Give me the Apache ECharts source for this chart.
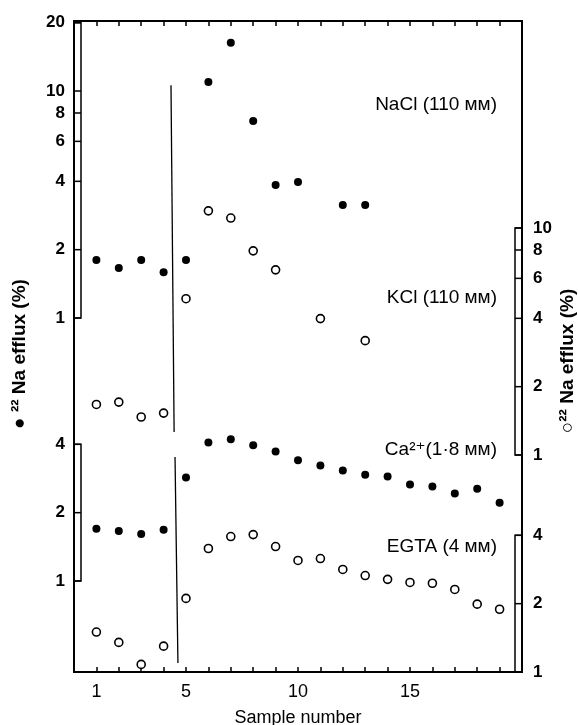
<!DOCTYPE html>
<html><head><meta charset="utf-8">
<script src="https://cdn.jsdelivr.net/npm/echarts@6/dist/echarts.min.js"></script>
<style>html,body{margin:0;padding:0;background:#fff}#c{width:578px;height:725px}</style>
</head><body><div id="c"></div>
<script>
// ---- data ----
const naclSamples = [1,2,3,4,5,6,7,8,9,10,12,13];
const naclEfflux  = [1.80,1.66,1.80,1.59,1.80,10.96,16.3,7.38,3.85,3.97,3.15,3.15];
const kclSamples  = [1,2,3,4,5,6,7,8,9,11,13];
const kclEfflux   = [1.67,1.71,1.47,1.53,4.88,11.9,11.06,7.93,6.54,3.99,3.19];
const caSamples   = [1,2,3,4,5,6,7,8,9,10,11,12,13,14,15,16,17,18,19];
const caEfflux    = [1.70,1.66,1.61,1.68,2.86,4.08,4.21,3.96,3.72,3.40,3.23,3.07,2.94,2.89,2.66,2.61,2.43,2.55,2.21];
const egtaSamples = [1,2,3,4,5,6,7,8,9,10,11,12,13,14,15,16,17,18,19];
const egtaEfflux  = [1.50,1.35,1.08,1.30,2.11,3.50,3.95,4.03,3.57,3.10,3.16,2.83,2.66,2.56,2.48,2.46,2.31,1.99,1.89];
// divider lines (sample, efflux on the NaCl / Ca scales)
const dividerUpperX = [4.33, 4.47];
const dividerUpperY = [10.6, 0.315];
const dividerLowerX = [4.51, 4.64];
const dividerLowerY = [3.52, 0.435];
// tick labels
const xTickLabels = [1,5,10,15];
const leftUpperTicks  = [1,2,4,6,8,10,20];
const leftLowerTicks  = [1,2,4];
const rightUpperTicks = [1,2,4,6,8,10];
const rightLowerTicks = [1,2,4];
const conditionLabels = ['NaCl (110 ᴍᴍ)', 'KCl (110 ᴍᴍ)', 'Ca²⁺(1·8 ᴍᴍ)', 'EGTA (4 ᴍᴍ)'];

// ---- layout ----
const T = 21, B = 672, L = 74, R = 522, W = 578, Hh = 725;
const DEC = 227; // pixels per decade
const FONT = '"Liberation Sans", Arial, "DejaVu Sans", sans-serif';
const INK = '#000';

function logAxis(onePx, position) {
  return { type: 'log', logBase: 10, position, show: false,
    min: Math.pow(10, (onePx - B) / DEC), max: Math.pow(10, (onePx - T) / DEC) };
}
const zip = (xs, ys) => xs.map((x, i) => [x, ys[i]]);

function scaleSeries(yAxisIndex, ticks, side) {
  const xv = side === 'left' ? 0 : 20;
  const lo = Math.min(...ticks), hi = Math.max(...ticks);
  return {
    type: 'custom', yAxisIndex, silent: true, z: 6, clip: false,
    data: ticks.map(v => [xv, v]),
    renderItem(params, api) {
      const v = api.value(1);
      const p = api.coord([xv, v]);
      const dir = side === 'left' ? 1 : -1;
      const bw = 7;
      const ch = [];
      ch.push({ type: 'line', shape: { x1: p[0], y1: p[1], x2: p[0] + dir * bw, y2: p[1] },
        style: { stroke: INK, lineWidth: 1.5 } });
      ch.push({ type: 'text', style: { text: String(v),
        x: side === 'left' ? p[0] - 9 : p[0] + 11, y: p[1],
        align: side === 'left' ? 'right' : 'left', verticalAlign: 'middle',
        font: 'bold 17px ' + FONT, fill: INK } });
      if (params.dataIndex === 0) {
        const q = api.coord([xv, hi]), r = api.coord([xv, lo]);
        ch.push({ type: 'rect', shape: { x: side === 'left' ? p[0] : p[0] - bw, y: q[1], width: bw, height: r[1] - q[1] },
          style: { fill: 'none', stroke: INK, lineWidth: 1.5 } });
      }
      return { type: 'group', children: ch };
    }
  };
}

const filled = { color: INK, opacity: 1 };
const hollow = { color: '#fff', borderColor: INK, borderWidth: 1.6, opacity: 1 };

const chart = echarts.init(document.getElementById('c'), null, { renderer: 'canvas' });
chart.setOption({
  animation: false,
  backgroundColor: '#fff',
  grid: { left: L, right: W - R, top: T, bottom: Hh - B, show: true, borderColor: INK, borderWidth: 2,
    outerBoundsMode: 'none', containLabel: false },
  xAxis: [
    { type: 'value', min: 0, max: 20, interval: 1, position: 'bottom',
      axisLine: { show: false }, splitLine: { show: false },
      axisTick: { inside: true, length: 5, lineStyle: { color: INK, width: 1.5 } },
      axisLabel: { formatter: v => xTickLabels.includes(v) ? String(v) : '', color: INK,
        fontSize: 18, fontFamily: FONT, margin: 11 },
      name: 'Sample number', nameLocation: 'middle', nameGap: 37,
      nameTextStyle: { color: INK, fontSize: 18, fontFamily: FONT } },
    { type: 'value', min: 0, max: 20, interval: 1, position: 'top',
      axisLine: { show: false }, splitLine: { show: false },
      axisTick: { inside: true, length: 5, lineStyle: { color: INK, width: 1.5 } },
      axisLabel: { show: false } }
  ],
  yAxis: [
    logAxis(318, 'left'),   // NaCl (filled, upper)
    logAxis(581, 'left'),   // Ca (filled, lower)
    logAxis(455, 'right'),  // KCl (open, upper)
    logAxis(672, 'right')   // EGTA (open, lower)
  ],
  series: [
    { type: 'scatter', name: 'NaCl', yAxisIndex: 0, symbol: 'circle', symbolSize: 8, itemStyle: filled, data: zip(naclSamples, naclEfflux) },
    { type: 'scatter', name: 'Ca', yAxisIndex: 1, symbol: 'circle', symbolSize: 8, itemStyle: filled, data: zip(caSamples, caEfflux) },
    { type: 'scatter', name: 'KCl', yAxisIndex: 2, symbol: 'circle', symbolSize: 8, itemStyle: hollow, data: zip(kclSamples, kclEfflux) },
    { type: 'scatter', name: 'EGTA', yAxisIndex: 3, symbol: 'circle', symbolSize: 8, itemStyle: hollow, data: zip(egtaSamples, egtaEfflux) },
    { type: 'line', yAxisIndex: 0, symbol: 'none', lineStyle: { color: INK, width: 1.3 }, data: zip(dividerUpperX, dividerUpperY), silent: true },
    { type: 'line', yAxisIndex: 1, symbol: 'none', lineStyle: { color: INK, width: 1.3 }, data: zip(dividerLowerX, dividerLowerY), silent: true },
    scaleSeries(0, leftUpperTicks, 'left'),
    scaleSeries(1, leftLowerTicks, 'left'),
    scaleSeries(2, rightUpperTicks, 'right'),
    scaleSeries(3, rightLowerTicks, 'right')
  ],
  graphic: [
    ...conditionLabels.map((t, i) => ({ type: 'text', x: 497, y: [105, 298, 450, 547][i],
      style: { text: t, align: 'right', verticalAlign: 'middle', font: '19px ' + FONT, fill: INK } })),
    { type: 'text', x: 20, y: 354, rotation: Math.PI / 2,
      style: { text: '● ²² Na efflux (%)', align: 'center', verticalAlign: 'middle', font: 'bold 19px ' + FONT, fill: INK } },
    { type: 'text', x: 568, y: 361, rotation: Math.PI / 2,
      style: { text: '○²² Na efflux (%)', align: 'center', verticalAlign: 'middle', font: 'bold 19px ' + FONT, fill: INK } }
  ]
});
</script></body></html>
